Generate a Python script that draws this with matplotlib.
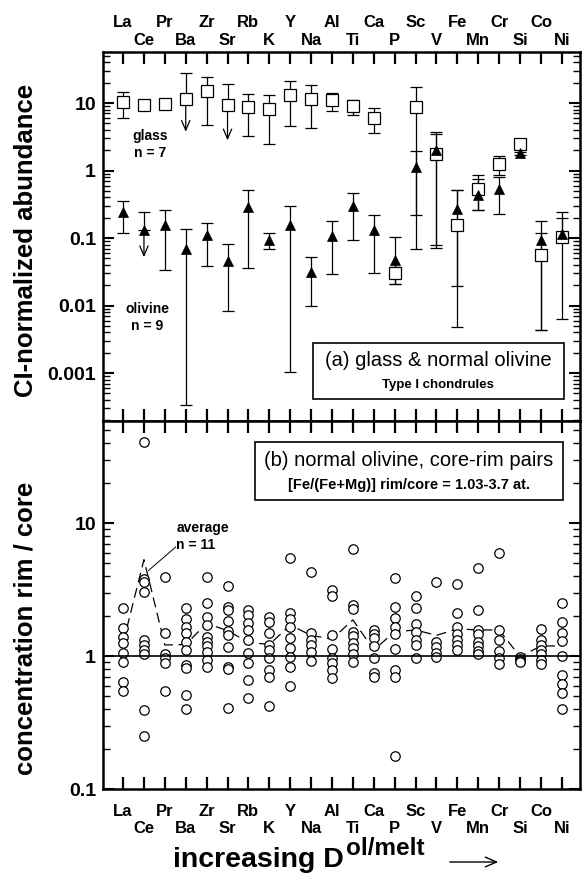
import matplotlib
matplotlib.use('Agg')
import matplotlib.pyplot as plt
import numpy as np
from matplotlib.ticker import FixedLocator, FixedFormatter, NullFormatter
from matplotlib.patches import Rectangle, FancyArrowPatch

plt.rcParams['font.family'] = ['Liberation Sans', 'DejaVu Sans']

nan = np.nan
elements = ['La', 'Ce', 'Pr', 'Ba', 'Zr', 'Sr', 'Rb', 'K', 'Y', 'Na', 'Al',
            'Ti', 'Ca', 'P', 'Sc', 'V', 'Fe', 'Mn', 'Cr', 'Si', 'Co', 'Ni']

# (a) glass, CI-normalized
glass_val = [10.5, 9.3, 9.7, 11.3, 15.0, 9.3, 8.6, 8.1, 13.1, 11.5, 11.1,
             9.0, 6.1, 0.030, 8.8, 1.73, 0.155, 0.54, 1.27, 2.46, 0.056, 0.105]
glass_hi = [14.7, nan, nan, 27.6, 24.5, 18.9, 13.6, 13.1, 21.4, 18.5, 13.9,
            11.1, 8.3, 0.037, 17.1, 3.75, 0.52, 0.85, 1.66, 2.7, 0.12, 0.20]
glass_lo = [6.1, nan, nan, nan, 4.7, nan, 3.2, 2.5, 4.6, 4.2, 7.6,
            6.6, 3.6, 0.021, 0.068, 0.080, 0.0048, 0.26, 0.87, 2.25, 0.0043, 0.095]
glass_arrow = [nan, nan, nan, 3.75, nan, 2.8, nan, nan, nan, nan, nan,
               nan, nan, nan, nan, nan, nan, nan, nan, nan, nan, nan]

# (a) normal olivine, CI-normalized
oliv_val = [0.244, 0.13, 0.155, 0.070, 0.11, 0.046, 0.29, 0.093, 0.155, 0.0314, 0.108,
            0.30, 0.13, 0.047, 1.14, 2.0, 0.27, 0.43, 0.54, 1.8, 0.095, 0.113]
oliv_hi = [0.35, 0.244, 0.26, 0.135, 0.167, 0.081, 0.51, 0.118, 0.30, 0.052, 0.178,
           0.47, 0.22, 0.104, 1.96, 3.45, 0.52, 0.74, 0.81, 1.9, 0.18, 0.24]
oliv_lo = [0.118, nan, 0.034, 0.00034, 0.039, 0.0083, 0.036, 0.068, 0.00103, 0.0099, 0.029,
           0.093, 0.030, 0.021, 0.22, 0.072, 0.0195, 0.26, 0.23, 1.7, 0.0043, 0.0064]
oliv_arrow = [nan, 0.052, nan, nan, nan, nan, nan, nan, nan, nan, nan,
              nan, nan, nan, nan, nan, nan, nan, nan, nan, nan, nan]

# (b) rim/core concentration ratios
rimcore = [
    [2.28, 1.63, 1.40, 1.25, 1.05, 0.90, 0.64, 0.55],                 # La
    [40.5, 3.79, 3.62, 3.01, 1.33, 1.21, 1.11, 1.03, 0.39, 0.25],     # Ce
    [3.9, 1.5, 1.03, 0.96, 0.88, 0.55],                               # Pr
    [2.28, 1.89, 1.66, 1.5, 1.28, 1.11, 0.85, 0.81, 0.51, 0.40],      # Ba
    [3.95, 2.52, 1.95, 1.71, 1.40, 1.28, 1.19, 1.08, 0.93, 0.83],     # Zr
    [3.36, 2.35, 2.22, 1.84, 1.55, 1.44, 1.17, 0.83, 0.80, 0.41],     # Sr
    [2.22, 2.03, 1.78, 1.57, 1.32, 1.05, 0.88, 0.66, 0.48],           # Rb
    [1.98, 1.79, 1.48, 1.21, 1.11, 0.96, 0.79, 0.70, 0.42],           # K
    [5.5, 2.12, 1.89, 1.66, 1.36, 1.15, 0.99, 0.82, 0.59],            # Y
    [4.26, 1.48, 1.33, 1.21, 1.08, 0.92],                             # Na
    [3.13, 2.84, 1.44, 1.13, 0.97, 0.88, 0.79, 0.68],                 # Al
    [6.38, 2.42, 2.26, 1.52, 1.42, 1.25, 1.14, 1.03, 0.90],           # Ti
    [1.57, 1.46, 1.36, 1.19, 0.96, 0.74, 0.70],                       # Ca
    [3.84, 2.35, 1.92, 1.66, 1.46, 1.12, 0.79, 0.70, 0.177],          # P
    [2.84, 2.31, 1.74, 1.52, 1.33, 1.22, 0.96],                       # Sc
    [3.62, 1.27, 1.16, 1.06, 0.99],                                   # V
    [3.46, 2.1, 1.66, 1.46, 1.32, 1.21, 1.11],                        # Fe
    [4.56, 2.22, 1.57, 1.46, 1.28, 1.19, 1.09, 1.03],                 # Mn
    [5.98, 1.57, 1.32, 1.09, 0.96, 0.87],                             # Cr
    [0.99, 0.95, 0.92, 0.90],                                         # Si
    [1.61, 1.32, 1.21, 1.11, 1.03, 0.93, 0.87],                       # Co
    [2.52, 1.81, 1.48, 1.30, 1.0, 0.72, 0.62, 0.53, 0.40],            # Ni
]
average = [1.25, 5.3, 1.21, 1.22, 1.76, 1.55, 1.27, 1.22, 1.71, 1.43, 1.34,
           1.87, 1.11, 1.52, 1.57, 1.43, 1.6, 1.57, 1.57, 0.99, 1.19, 1.19]

top_yticks = [0.001, 0.01, 0.1, 1, 10]
top_ylabels = ['0.001', '0.01', '0.1', '1', '10']
bot_yticks = [0.1, 1, 10]
bot_ylabels = ['0.1', '1', '10']

# ---------------------------------------------------------------
W, H = 582, 874
fig = plt.figure(figsize=(W / 100, H / 100), dpi=100)
L, Rr = 103 / W, 580 / W
ax1 = fig.add_axes([L, 1 - 421 / H, Rr - L, (421 - 52) / H])
ax2 = fig.add_axes([L, 1 - 789 / H, Rr - L, (789 - 421) / H])

x = np.arange(1, len(elements) + 1)
ebkw = dict(fmt='none', ecolor='black', elinewidth=0.9, capsize=4.3, capthick=0.9)
arrowkw = dict(arrowstyle='->,head_length=0.7,head_width=0.3', lw=0.9,
               color='black', shrinkA=0, shrinkB=0)

for i in range(len(elements)):
    # glass
    v, lo, hi, ar = glass_val[i], glass_lo[i], glass_hi[i], glass_arrow[i]
    if not np.isnan(hi):
        lo_ = v if np.isnan(lo) else lo
        ax1.errorbar(x[i], v, yerr=[[v - lo_], [hi - v]], zorder=2, **ebkw)
    if not np.isnan(ar):
        ax1.annotate('', xy=(x[i], ar), xytext=(x[i], v), arrowprops=arrowkw, zorder=2)
    # olivine
    v, lo, hi, ar = oliv_val[i], oliv_lo[i], oliv_hi[i], oliv_arrow[i]
    if not np.isnan(hi):
        lo_ = v if np.isnan(lo) else lo
        ax1.errorbar(x[i], v, yerr=[[v - lo_], [hi - v]], zorder=2, **ebkw)
    if not np.isnan(ar):
        ax1.annotate('', xy=(x[i], ar), xytext=(x[i], v), arrowprops=arrowkw, zorder=2)

ax1.plot(x, glass_val, ls='none', marker='s', ms=8, mfc='white', mec='black', mew=0.9, zorder=3)
ax1.plot(x, oliv_val, ls='none', marker='^', ms=7.2, mfc='black', mec='black', mew=0.5, zorder=4)

ax1.set_yscale('log')
ax1.set_ylim(1.95e-4, 57)

# (b)
for i, vals in enumerate(rimcore):
    ax2.plot([x[i]] * len(vals), vals, ls='none', marker='o', ms=6.8,
             mfc='white', mec='black', mew=0.9, zorder=4)
ax2.plot(x, average, color='black', lw=0.9, dashes=(8, 4.5), zorder=3)
ax2.axhline(1, color='black', lw=1.2, zorder=5)
ax2.set_yscale('log')
ax2.set_ylim(0.1, 58.5)

for ax in (ax1, ax2):
    ax.set_xlim(0.04, 22.87)
    ax.set_xticks(x)
    ax.set_xticklabels([])
    ax.tick_params(axis='x', which='major', direction='in', top=True, bottom=True,
                   length=8.5, width=1.6, labelbottom=False, labeltop=False)
    ax.tick_params(axis='y', which='major', direction='in', left=True, right=True,
                   length=8, width=1.5, labelsize=14, pad=5)
    ax.tick_params(axis='y', which='minor', direction='in', left=True, right=True,
                   length=5, width=1.0)
    for s in ax.spines.values():
        s.set_linewidth(1.8)
    ax.minorticks_on()
    ax.tick_params(axis='x', which='minor', bottom=False, top=False)

ax1.yaxis.set_major_locator(FixedLocator(top_yticks))
ax1.yaxis.set_major_formatter(FixedFormatter(top_ylabels))
ax2.yaxis.set_major_locator(FixedLocator(bot_yticks))
ax2.yaxis.set_major_formatter(FixedFormatter(bot_ylabels))
minor1 = [m * 10.0 ** e for e in range(-4, 2) for m in range(2, 10)]
minor2 = [m * 10.0 ** e for e in range(-1, 2) for m in range(2, 10)]
ax1.yaxis.set_minor_locator(FixedLocator(minor1))
ax2.yaxis.set_minor_locator(FixedLocator(minor2))
ax1.yaxis.set_minor_formatter(NullFormatter())
ax2.yaxis.set_minor_formatter(NullFormatter())
for ax in (ax1, ax2):
    for lab in ax.get_yticklabels():
        lab.set_fontweight('bold')

# element labels (two staggered rows)
lab_kw = dict(fontsize=12, fontweight='bold', ha='center', va='baseline')
tr1 = ax1.get_xaxis_transform()
tr2 = ax2.get_xaxis_transform()
for i, el in enumerate(elements):
    if i % 2 == 0:
        ax1.text(x[i], 1.0678, el, transform=tr1, **lab_kw)
        ax2.text(x[i], -(816 - 789) / 368, el, transform=tr2, **lab_kw)
    else:
        ax1.text(x[i], 1.019, el, transform=tr1, **lab_kw)
        ax2.text(x[i], -(833 - 789) / 368, el, transform=tr2, **lab_kw)

# axis titles
fig.text(26 / W, 1 - 240 / H, 'CI-normalized abundance', rotation=90, fontsize=18.5,
         fontweight='bold', ha='center', va='center')
fig.text(26 / W, 1 - 628 / H, 'concentration rim / core', rotation=90, fontsize=18.5,
         fontweight='bold', ha='center', va='center')
xl = fig.text(173 / W, 1 - 867 / H, 'increasing D', fontsize=20.5, fontweight='bold',
              ha='left', va='baseline')
fig.canvas.draw()
bb = xl.get_window_extent(fig.canvas.get_renderer())
fig.text((bb.x1 + 2) / W, 1 - 855 / H, 'ol/melt', fontsize=17.5, fontweight='bold',
         ha='left', va='baseline')
fig.add_artist(FancyArrowPatch(
    (447 / W, 1 - 862 / H), (501 / W, 1 - 862 / H), transform=fig.transFigure,
    arrowstyle='->,head_length=0.8,head_width=0.35', lw=1.0, color='black',
    mutation_scale=10))

# annotations panel (a)
ax1.text(2.29, 2.4, 'glass\nn = 7', fontsize=10, fontweight='bold', ha='center',
         va='center', linespacing=1.25)
ax1.text(2.15, 0.0067, 'olivine\nn = 9', fontsize=10, fontweight='bold', ha='center',
         va='center', linespacing=1.25)
ax1.add_patch(Rectangle((0.440, 0.0596), 0.966 - 0.440, 0.211 - 0.0596,
                        transform=ax1.transAxes, fill=True, facecolor='white',
                        edgecolor='black', lw=1.2, zorder=6))
ax1.text(0.703, 0.165, '(a) glass & normal olivine', transform=ax1.transAxes,
         fontsize=14.5, ha='center', va='center', zorder=7)
ax1.text(0.703, 0.0976, 'Type I chondrules', transform=ax1.transAxes,
         fontsize=9.5, fontweight='bold', ha='center', va='center', zorder=7)

# annotations panel (b)
ax2.add_patch(Rectangle((0.319, 0.785), 0.964 - 0.319, 0.943 - 0.785,
                        transform=ax2.transAxes, fill=True, facecolor='white',
                        edgecolor='black', lw=1.2, zorder=6))
ax2.text(0.641, 0.894, '(b) normal olivine, core-rim pairs', transform=ax2.transAxes,
         fontsize=14.5, ha='center', va='center', zorder=7)
ax2.text(0.641, 0.826, '[Fe/(Fe+Mg)] rim/core = 1.03-3.7 at.', transform=ax2.transAxes,
         fontsize=10.5, fontweight='bold', ha='center', va='center', zorder=7)
ax2.text(3.55, 7.9, 'average\nn = 11', fontsize=10, fontweight='bold', ha='left',
         va='center', linespacing=1.25)
ax2.plot([3.52, 2.22], [6.6, 4.4], color='black', lw=0.7, zorder=3)

fig.savefig('out.png', dpi=100)
